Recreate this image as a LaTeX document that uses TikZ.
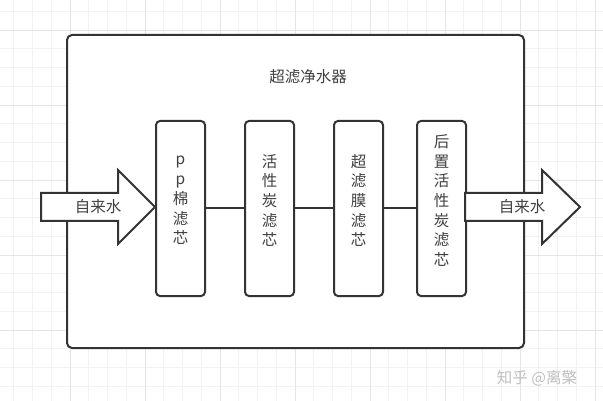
\documentclass[tikz,border=0pt]{standalone}
\usepackage{fontspec}
\setmainfont{Noto Sans CJK SC}
\begin{document}
\begin{tikzpicture}[x=1pt,y=-1pt,
  minorgrid/.style={draw=black!5,line width=0.8pt},
  majorgrid/.style={draw=black!10,line width=0.8pt},
  frame/.style={draw=black!80,line width=2pt,rounded corners=5pt,fill=white},
  filterbox/.style={draw=black!80,line width=2pt,rounded corners=4pt,fill=white,
    minimum width=49pt,minimum height=175pt,inner sep=0pt,anchor=north west},
  boxtext/.style={text=black!75,font=\fontsize{15.5}{19.7}\selectfont,align=center,inner sep=0pt},
  bigarrow/.style={draw=black!80,line width=2pt,fill=white,line join=miter},
  lbl/.style={text=black!75,font=\fontsize{15.5}{18}\selectfont,inner sep=0pt},
  wire/.style={draw=black!80,line width=2pt}]
\useasboundingbox (0,0) rectangle (603,401);
\fill[white] (0,0) rectangle (603,401);
% grid
\foreach \i in {0,...,31} {
  \pgfmathsetmacro\gx{13.75+18.75*\i}
  \draw[minorgrid] (\gx,0) -- (\gx,401);
}
\foreach \i in {0,...,21} {
  \pgfmathsetmacro\gy{11.25+18.75*\i}
  \draw[minorgrid] (0,\gy) -- (603,\gy);
}
\foreach \gx in {70,145,220,295,370,445,520,595} \draw[majorgrid] (\gx,0) -- (\gx,401);
\foreach \gy in {30,105,180,255,330} \draw[majorgrid] (0,\gy) -- (603,\gy);
% outer frame
\draw[frame] (67,35) rectangle (524,348);
\node[lbl] (title) at (308,77) {超滤净水器};
% filter boxes
\node[filterbox] (b1) at (155,120) {};
\node[filterbox] (b2) at (244,120) {};
\node[filterbox] (b3) at (333,120) {};
\node[filterbox] (b4) at (416,120) {};
\node[boxtext] (t1) at ([yshift=8pt]b1.center) {p\\p\\棉\\滤\\芯};
\node[boxtext] (t2) at ([yshift=8pt]b2.center) {活\\性\\炭\\滤\\芯};
\node[boxtext] (t3) at ([yshift=8pt]b3.center) {超\\滤\\膜\\滤\\芯};
\node[boxtext] (t4) at ([yshift=8pt]b4.center) {后\\置\\活\\性\\炭\\滤\\芯};
\draw[wire] (b1.east) -- (b2.west);
\draw[wire] (b2.east) -- (b3.west);
\draw[wire] (b3.east) -- (b4.west);
% inlet arrow
\draw[bigarrow] (41,193) -- (118,193) -- (118,170) -- (155,207) -- (118,244) -- (118,221) -- (41,221) -- cycle;
\node[lbl] (inlet) at (98,207) {自来水};
% outlet arrow
\draw[bigarrow] (465,193) -- (542,193) -- (542,170) -- (580,207) -- (542,244) -- (542,221) -- (465,221) -- cycle;
\node[lbl] (outlet) at (522,207) {自来水};
% watermark
\node[lbl,text=black!25] (mark) at (537,378) {知乎 @离檠};
\end{tikzpicture}
\end{document}
